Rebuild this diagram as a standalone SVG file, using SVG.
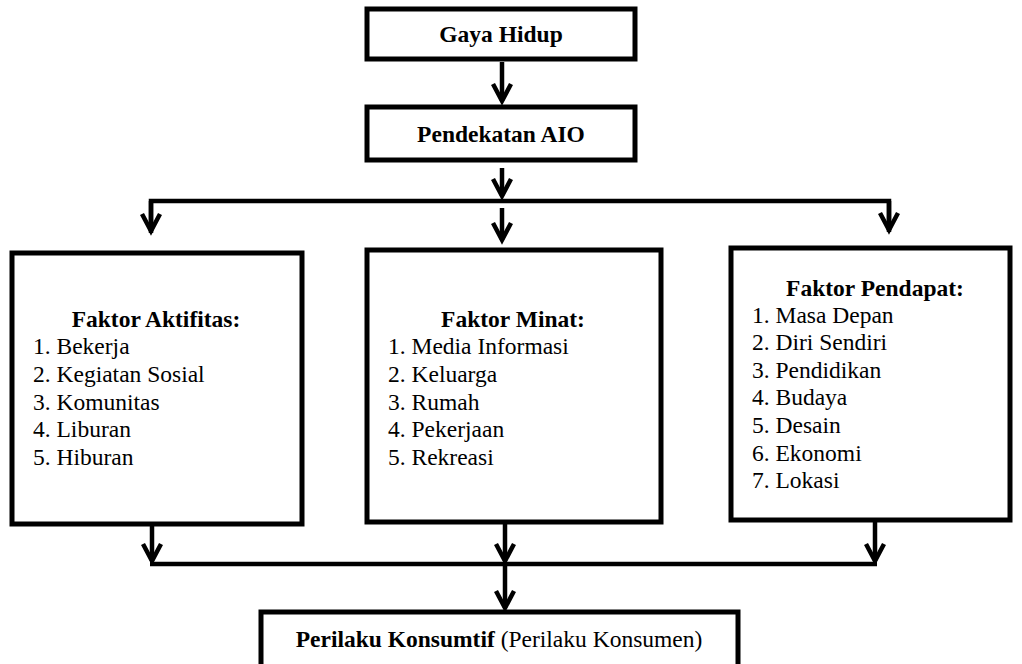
<svg xmlns="http://www.w3.org/2000/svg" width="1022" height="664" viewBox="0 0 1022 664">
<style>
.box{fill:#fff;stroke:#000;stroke-width:5}
.ln{fill:none;stroke:#000;stroke-width:4.5}
.ar{fill:none;stroke:#000;stroke-width:4.5;marker-end:url(#ah)}
text, tspan{font-family:'Liberation Serif', serif !important;font-size:23.5px;fill:#000}
.b{font-weight:bold}
.c{text-anchor:middle}
</style>
<defs>
<marker id="ah" markerUnits="userSpaceOnUse" viewBox="-22 -14 28 28" markerWidth="28" markerHeight="28" refX="0" refY="0" orient="auto">
<path d="M-17,-9 L0,0 L-17,9" fill="none" stroke="#000" stroke-width="4.5" stroke-linejoin="miter"/>
</marker>
</defs>
<rect width="1022" height="664" fill="#fff"/>
<g id="connectors">
<line class="ar" x1="502" y1="62" x2="502" y2="101"/>
<line class="ar" x1="502" y1="168" x2="502" y2="196"/>
<polyline class="ln" points="151,233 151,201 889,201 889,232"/>
<line class="ar" x1="151" y1="201" x2="151" y2="231"/>
<line class="ar" x1="889" y1="201" x2="889" y2="230"/>
<line class="ar" x1="502" y1="208" x2="502" y2="240"/>
<line class="ar" x1="152" y1="526" x2="152" y2="561"/>
<line class="ar" x1="505" y1="524" x2="505" y2="561"/>
<line class="ar" x1="875" y1="522" x2="875" y2="561"/>
<line class="ln" x1="150" y1="564" x2="877" y2="564"/>
<line class="ar" x1="505" y1="564" x2="505" y2="608"/>
</g>
<g id="gaya-hidup">
<rect class="box" x="367" y="9" width="268" height="50"/>
<text class="b c" font-family="Liberation Serif" style="font-family:'Liberation Serif',serif !important" x="501" y="42">Gaya Hidup</text>
</g>
<g id="pendekatan-aio">
<rect class="box" x="367" y="107" width="268" height="53"/>
<text class="b c" font-family="Liberation Serif" style="font-family:'Liberation Serif',serif !important" x="501" y="142">Pendekatan AIO</text>
</g>
<g id="faktor-aktifitas">
<rect class="box" x="12" y="253" width="290" height="271"/>
<text class="b c" font-family="Liberation Serif" style="font-family:'Liberation Serif',serif !important" x="156" y="327">Faktor Aktifitas:</text>
<text font-family="Liberation Serif" style="font-family:'Liberation Serif',serif !important" x="33" y="354">1. Bekerja</text>
<text font-family="Liberation Serif" style="font-family:'Liberation Serif',serif !important" x="33" y="382">2. Kegiatan Sosial</text>
<text font-family="Liberation Serif" style="font-family:'Liberation Serif',serif !important" x="33" y="410">3. Komunitas</text>
<text font-family="Liberation Serif" style="font-family:'Liberation Serif',serif !important" x="33" y="437">4. Liburan</text>
<text font-family="Liberation Serif" style="font-family:'Liberation Serif',serif !important" x="33" y="465">5. Hiburan</text>
</g>
<g id="faktor-minat">
<rect class="box" x="367" y="250" width="294" height="272"/>
<text class="b c" font-family="Liberation Serif" style="font-family:'Liberation Serif',serif !important" x="513" y="327">Faktor Minat:</text>
<text font-family="Liberation Serif" style="font-family:'Liberation Serif',serif !important" x="388" y="354">1. Media Informasi</text>
<text font-family="Liberation Serif" style="font-family:'Liberation Serif',serif !important" x="388" y="382">2. Keluarga</text>
<text font-family="Liberation Serif" style="font-family:'Liberation Serif',serif !important" x="388" y="410">3. Rumah</text>
<text font-family="Liberation Serif" style="font-family:'Liberation Serif',serif !important" x="388" y="437">4. Pekerjaan</text>
<text font-family="Liberation Serif" style="font-family:'Liberation Serif',serif !important" x="388" y="465">5. Rekreasi</text>
</g>
<g id="faktor-pendapat">
<rect class="box" x="731" y="248" width="279" height="272"/>
<text class="b c" font-family="Liberation Serif" style="font-family:'Liberation Serif',serif !important" x="875" y="296">Faktor Pendapat:</text>
<text font-family="Liberation Serif" style="font-family:'Liberation Serif',serif !important" x="752" y="323">1. Masa Depan</text>
<text font-family="Liberation Serif" style="font-family:'Liberation Serif',serif !important" x="752" y="350">2. Diri Sendiri</text>
<text font-family="Liberation Serif" style="font-family:'Liberation Serif',serif !important" x="752" y="378">3. Pendidikan</text>
<text font-family="Liberation Serif" style="font-family:'Liberation Serif',serif !important" x="752" y="405">4. Budaya</text>
<text font-family="Liberation Serif" style="font-family:'Liberation Serif',serif !important" x="752" y="433">5. Desain</text>
<text font-family="Liberation Serif" style="font-family:'Liberation Serif',serif !important" x="752" y="461">6. Ekonomi</text>
<text font-family="Liberation Serif" style="font-family:'Liberation Serif',serif !important" x="752" y="488">7. Lokasi</text>
</g>
<g id="perilaku-konsumtif">
<rect class="box" x="261" y="612" width="477" height="70"/>
<text class="c" font-family="Liberation Serif" style="font-family:'Liberation Serif',serif !important" x="499" y="647"><tspan class="b">Perilaku Konsumtif</tspan> (Perilaku Konsumen)</text>
</g>
</svg>
